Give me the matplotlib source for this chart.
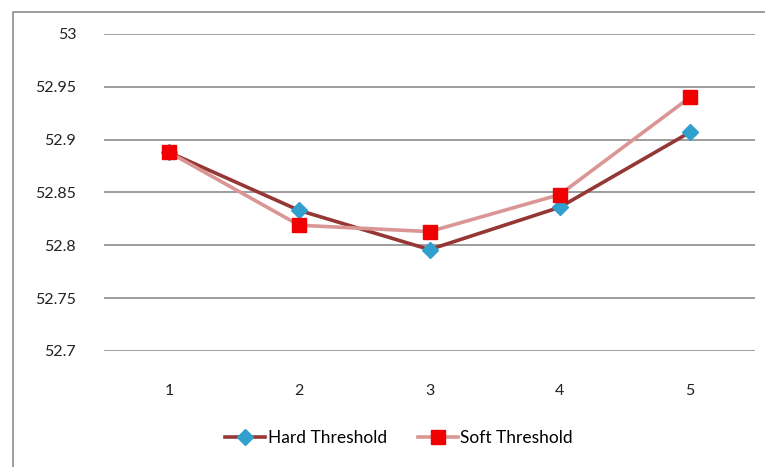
import matplotlib.pyplot as plt
from matplotlib.lines import Line2D

plt.rcParams['font.family'] = ['Lato', 'DejaVu Sans']

# data
steps = [1, 2, 3, 4, 5]
hard = [52.888, 52.833, 52.796, 52.836, 52.907]
soft = [52.888, 52.819, 52.813, 52.848, 52.940]
y_ticks = [52.7, 52.75, 52.8, 52.85, 52.9, 52.95, 53]
y_labels = ["52.7", "52.75", "52.8", "52.85", "52.9", "52.95", "53"]

fig = plt.figure(figsize=(7.65, 4.67), dpi=100)
ax = fig.add_axes([104 / 765, 1 - 351 / 467, 651 / 765, 317 / 467])

ax.plot(steps, hard, color="#953735", lw=2.6, marker="D", ms=8,
        mfc="#31A0CF", mec="#31A0CF", label="Hard Threshold", zorder=3)
ax.plot(steps, soft, color="#D99694", lw=2.6, marker="s", ms=9.5,
        mfc="#F00000", mec="#F00000", label="Soft Threshold", zorder=4)

ax.set_xlim(0.5, 5.5)
ax.set_ylim(52.7, 53)
ax.set_yticks(y_ticks)
ax.set_yticklabels(y_labels)
ax.set_xticks(steps)
ax.set_xticklabels([str(s) for s in steps])
ax.grid(axis="y", color="#8c8c8c", lw=1.2)
ax.set_axisbelow(True)
for s in ax.spines.values():
    s.set_visible(False)
ax.tick_params(length=0, labelsize=11.5, colors="#222222")
ax.tick_params(axis="y", pad=20)
ax.tick_params(axis="x", pad=24)

# outer chart border (top and left only visible)
fig.add_artist(Line2D([13 / 765, 13 / 765, 1], [0, 1 - 12 / 467, 1 - 12 / 467],
                      color="#8c8c8c", lw=1.2))

fig.legend(loc="center", bbox_to_anchor=(399 / 765, 1 - 438 / 467), ncol=2,
           frameon=False, fontsize=12.5, handlelength=2.3, columnspacing=1.8,
           handletextpad=0.15)

fig.savefig("out.png", dpi=100)
plt.close()
